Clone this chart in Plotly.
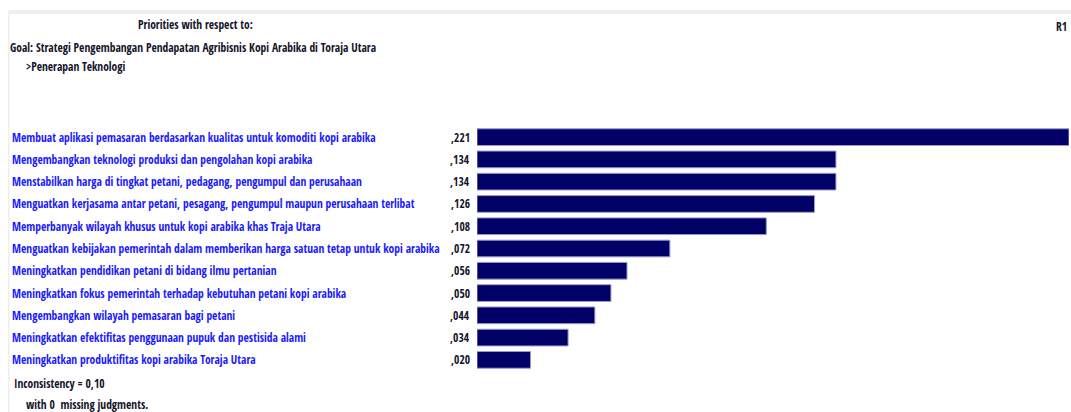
import plotly.graph_objects as go

W, H = 1071, 412

labels = [
    "Membuat aplikasi pemasaran berdasarkan kualitas untuk komoditi kopi arabika",
    "Mengembangkan teknologi produksi dan pengolahan kopi arabika",
    "Menstabilkan harga di tingkat petani, pedagang, pengumpul dan perusahaan",
    "Menguatkan kerjasama antar petani, pesagang, pengumpul maupun perusahaan terlibat",
    "Memperbanyak wilayah khusus untuk kopi arabika khas Traja Utara",
    "Menguatkan kebijakan pemerintah dalam memberikan harga satuan tetap untuk kopi arabika",
    "Meningkatkan pendidikan petani di bidang ilmu pertanian",
    "Meningkatkan fokus pemerintah terhadap kebutuhan petani kopi arabika",
    "Mengembangkan wilayah pemasaran bagi petani",
    "Meningkatkan efektifitas penggunaan pupuk dan pestisida alami",
    "Meningkatkan produktifitas kopi arabika Toraja Utara",
]
priorities = [0.221, 0.134, 0.134, 0.126, 0.108, 0.072, 0.056, 0.050, 0.044, 0.034, 0.020]
value_text = [",221", ",134", ",134", ",126", ",108", ",072", ",056", ",050", ",044", ",034", ",020"]

title = "Priorities with respect to:"
goal = "Goal: Strategi Pengembangan Pendapatan Agribisnis Kopi Arabika di Toraja Utara"
node = ">Penerapan Teknologi"
inconsistency = "Inconsistency = 0,10"
missing = "with 0  missing judgments."

FONT = "Open Sans Condensed, Roboto Condensed, DejaVu Sans Condensed, sans-serif"
FSIZE = 11.5
NAVY = "#000066"
BLUE = "#1a1aff"
INK = "#14142a"


# convert pixel positions (as in the screenshot) to paper fractions
def px(x):
    return x / W


def py(y):
    return 1 - y / H


fig = go.Figure()
fig.add_trace(
    go.Bar(
        x=priorities,
        y=labels,
        orientation="h",
        marker=dict(color=NAVY, line=dict(color="#9a9ad0", width=1)),
        hoverinfo="x+y",
    )
)

annotations = []
for lab, vt in zip(labels, value_text):
    annotations.append(dict(
        x=px(10), xref="paper", xanchor="left", y=lab, yref="y",
        text=lab, showarrow=False, font=dict(family=FONT, size=FSIZE, color=BLUE),
    ))
    annotations.append(dict(
        x=px(472), xref="paper", xanchor="right", y=lab, yref="y",
        text=vt, showarrow=False, font=dict(family=FONT, size=FSIZE, color=INK),
    ))

header = [
    (title, 195, 25, "center"),
    (goal, 8, 47, "left"),
    (node, 24, 66, "left"),
    ("R1", 1069, 27, "right"),
    (inconsistency, 12, 383, "left"),
    (missing, 24, 404, "left"),
]
for text, x, y, anchor in header:
    annotations.append(dict(
        x=px(x), xref="paper", xanchor=anchor, y=py(y), yref="paper", yanchor="middle",
        text=text, showarrow=False, font=dict(family=FONT, size=FSIZE, color=INK),
    ))

fig.update_layout(
    width=W,
    height=H,
    margin=dict(l=0, r=0, t=0, b=0),
    paper_bgcolor="white",
    plot_bgcolor="white",
    showlegend=False,
    bargap=0.25,
    xaxis=dict(domain=[px(477), px(1069)], range=[0, 0.221], visible=False, fixedrange=True),
    yaxis=dict(
        domain=[py(371), py(126)],
        categoryorder="array",
        categoryarray=labels,
        autorange="reversed",
        visible=False,
        fixedrange=True,
    ),
    annotations=annotations,
    shapes=[
        dict(type="rect", xref="paper", yref="paper", x0=px(8), x1=1, y0=py(14), y1=py(10),
             fillcolor="#efefef", line=dict(width=0), layer="below"),
        dict(type="rect", xref="paper", yref="paper", x0=px(8), x1=px(9.5), y0=0, y1=py(14),
             fillcolor="#efefef", line=dict(width=0), layer="below"),
    ],
)

# figure fills the window exactly, so drop the default page margin
fig.write_html(
    "out.html",
    config={"displayModeBar": False},
    post_script="document.body.style.margin='0';document.body.style.overflow='hidden';",
)
